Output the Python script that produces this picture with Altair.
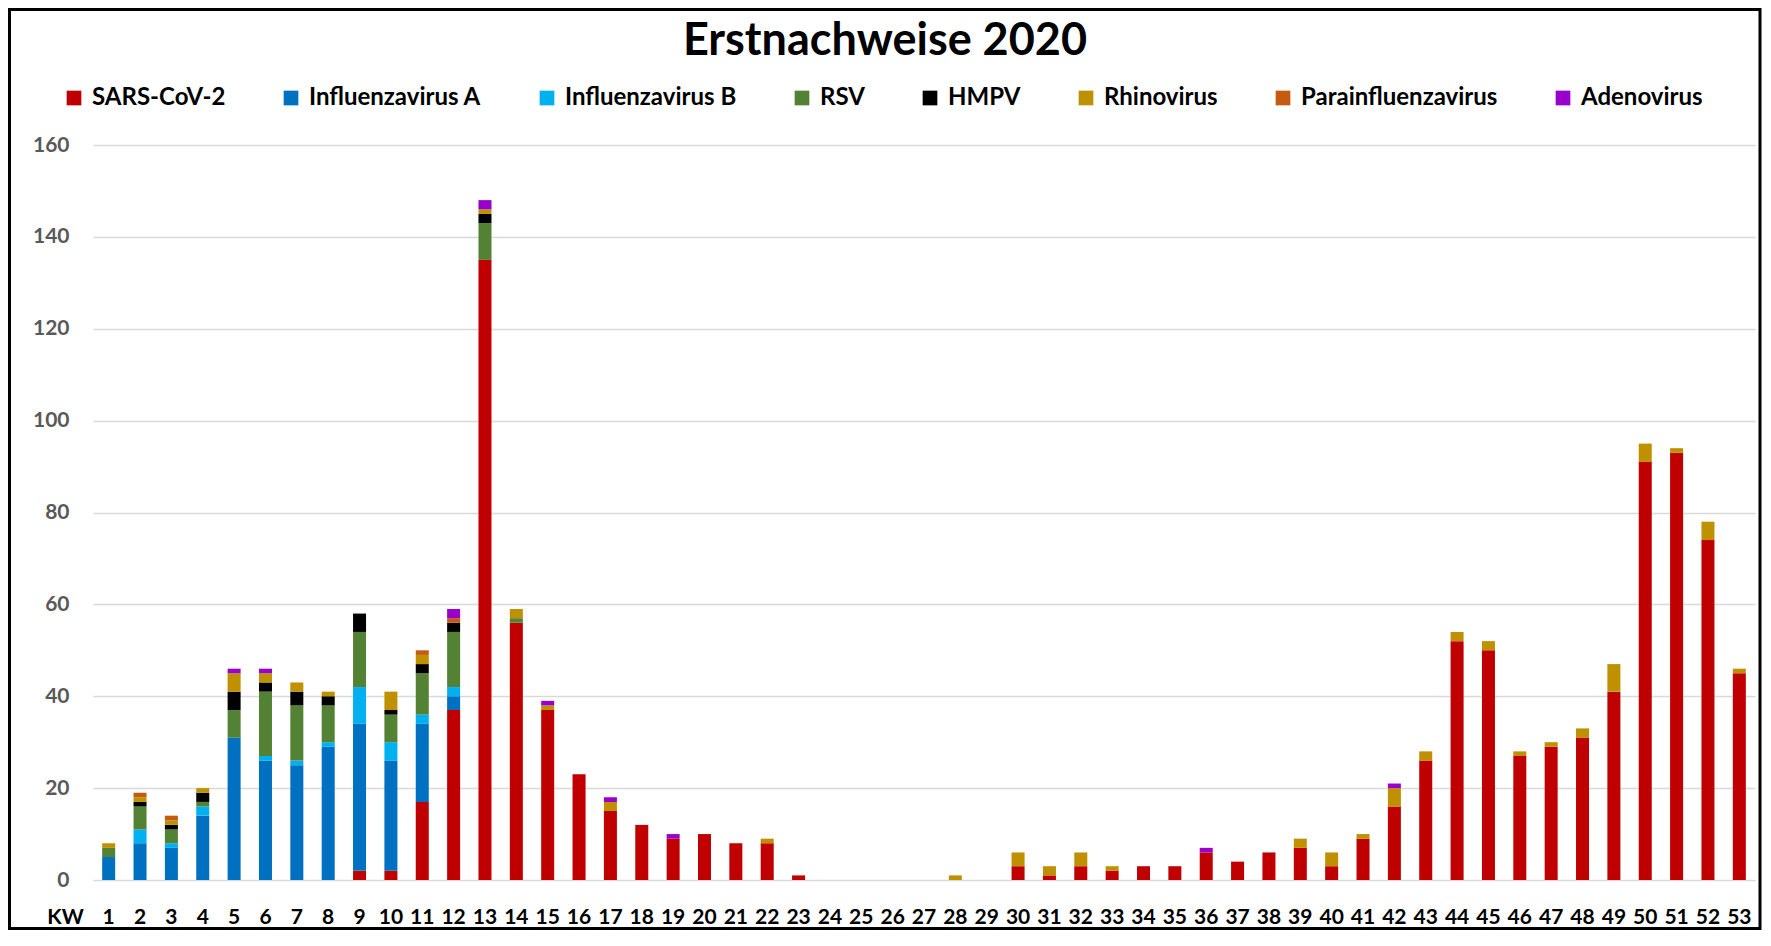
import altair as alt
import pandas as pd

weeks = list(range(1, 54))
series = ["SARS-CoV-2", "Influenzavirus A", "Influenzavirus B", "RSV", "HMPV",
          "Rhinovirus", "Parainfluenzavirus", "Adenovirus"]
colors = ["#C00000", "#0070C0", "#00B0F0", "#548235", "#000000",
          "#BF9000", "#C55A11", "#9900CC"]

sars = [0, 0, 0, 0, 0, 0, 0, 0, 2, 2, 17, 37, 135, 56, 37, 23, 15, 12, 9, 10,
        8, 8, 1, 0, 0, 0, 0, 0, 0, 3, 1, 3, 2, 3, 3, 6, 4, 6, 7, 3,
        9, 16, 26, 52, 50, 27, 29, 31, 41, 91, 93, 74, 45]
infl_a = [5, 8, 7, 14, 31, 26, 25, 29, 32, 24, 17, 3] + [0] * 41
infl_b = [0, 3, 1, 2, 0, 1, 1, 1, 8, 4, 2, 2] + [0] * 41
rsv = [2, 5, 3, 1, 6, 14, 12, 8, 12, 6, 9, 12, 8, 1] + [0] * 39
hmpv = [0, 1, 1, 2, 4, 2, 3, 2, 4, 1, 2, 2, 2] + [0] * 40
rhino = [1, 1, 1, 1, 4, 2, 2, 1, 0, 4, 2, 0, 1, 2, 1, 0, 2, 0, 0, 0,
         0, 1, 0, 0, 0, 0, 0, 1, 0, 3, 2, 3, 1, 0, 0, 0, 0, 0, 2, 3,
         1, 4, 2, 2, 2, 1, 1, 2, 6, 4, 1, 4, 1]
para = [0, 1, 1, 0, 0, 0, 0, 0, 0, 0, 1, 1] + [0] * 41
adeno = [0, 0, 0, 0, 1, 1, 0, 0, 0, 0, 0, 2, 2, 0, 1, 0, 1, 0, 1, 0,
         0, 0, 0, 0, 0, 0, 0, 0, 0, 0, 0, 0, 0, 0, 0, 1, 0, 0, 0, 0,
         0, 1, 0, 0, 0, 0, 0, 0, 0, 0, 0, 0, 0]

y_ticks = [0, 20, 40, 60, 80, 100, 120, 140, 160]

values = [sars, infl_a, infl_b, rsv, hmpv, rhino, para, adeno]
rows = []
for si, (name, vals) in enumerate(zip(series, values)):
    for w, v in zip(weeks, vals):
        if v > 0:
            rows.append({"KW": w, "Erreger": name, "Anzahl": v, "order": si})
df = pd.DataFrame(rows)

FONT = "Lato"
W, H = 1662, 735

bars = alt.Chart(df).mark_bar().encode(
    x=alt.X("KW:O", scale=alt.Scale(domain=weeks, paddingInner=0.585, paddingOuter=0.2925),
            axis=alt.Axis(title="KW", labelAngle=0, labelFont=FONT, labelFontSize=21,
                          labelFontWeight="bold", labelColor="black", ticks=False, tickSize=0,
                          domain=False, labelPadding=26, titleFont=FONT, titleFontSize=21,
                          titleFontWeight="bold", titleColor="black", titleX=-28,
                          titleY=43, titleAlign="center", titleBaseline="alphabetic",
                          titleAnchor="start")),
    y=alt.Y("sum(Anzahl):Q", stack="zero",
            scale=alt.Scale(domain=[0, 160], nice=False),
            axis=alt.Axis(title=None, values=y_ticks, labelFont=FONT, labelFontSize=21,
                          labelFontWeight="bold", labelColor="#595959", ticks=False,
                          tickSize=0, domain=False, labelPadding=24, grid=True,
                          gridColor="#D9D9D9", gridWidth=1.5)),
    color=alt.Color("Erreger:N", scale=alt.Scale(domain=series, range=colors),
                    legend=alt.Legend(orient="none", legendX=-31, legendY=-59,
                                      direction="horizontal", columns=8, title=None,
                                      symbolType="square", symbolSize=216,
                                      symbolStrokeWidth=0, symbolOpacity=1,
                                      labelFont=FONT, labelFontSize=24,
                                      labelFontWeight="bold", labelColor="black",
                                      labelOffset=6, columnPadding=53, padding=0,
                                      labelLimit=400)),
    order=alt.Order("order:Q", sort="ascending"),
)

one = pd.DataFrame({"t": ["Erstnachweise 2020"]})

title = alt.Chart(one).mark_text(font=FONT, fontSize=45, fontWeight="bold", color="black",
                                 align="center", baseline="alphabetic").encode(
    text="t:N", x=alt.value(792), y=alt.value(-90))

frame = alt.Chart(one).mark_rect(fill="white", fillOpacity=0, stroke="black",
                                 strokeWidth=3).encode(
    x=alt.value(-83.5), x2=alt.value(1667), y=alt.value(-135.5), y2=alt.value(783.5))

chart = alt.layer(bars, title, frame).properties(
    width=W, height=H,
    padding={"left": 85, "top": 137, "right": 7, "bottom": 50},
    autosize=alt.AutoSizeParams(type="none"),
    background="white",
).configure_view(stroke=None)

chart.save("out.html", embed_options={"renderer": "svg", "actions": False})
